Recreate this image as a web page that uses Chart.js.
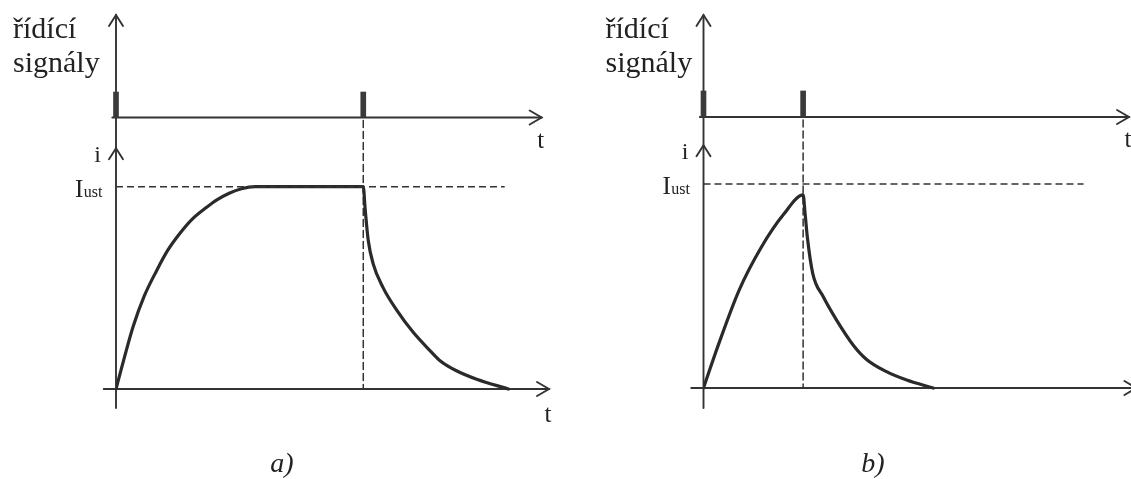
<!DOCTYPE html>
<html lang="cs">
<head>
<meta charset="utf-8">
<title>Řídící signály a proud</title>
<script src="https://cdn.jsdelivr.net/npm/chart.js@4.4.1/dist/chart.umd.min.js"></script>
<style>
  html, body { margin: 0; padding: 0; background: #fff; }
  .wrap { position: relative; width: 1131px; height: 479px; overflow: hidden; }
  canvas { position: absolute; top: 0; }
  #chartA { left: 0; }
  #chartB { left: 580px; }
</style>
</head>
<body>
<div class="wrap">
  <canvas id="chartA" width="580" height="479"></canvas>
  <canvas id="chartB" width="551" height="479"></canvas>
</div>
<script>
// --- data: time in ms, current relative to I_ust ---
const timeA    = [0, 0.35, 0.7, 1.15, 1.65, 2.1, 2.6, 3.1, 3.7, 4.1, 4.6, 5.1, 5.65,
                  10.05, 10.13, 10.25, 10.45, 10.86, 11.41, 12.08, 12.76, 13.17, 13.84, 14.66, 15.95];
const currentA = [0, 0.16, 0.31, 0.46, 0.585, 0.685, 0.77, 0.84, 0.9, 0.935, 0.968, 0.99, 1,
                  1, 0.885, 0.737, 0.62, 0.5, 0.39, 0.28, 0.19, 0.14, 0.09, 0.048, 0];
const pulsesA  = [0, 10.05];

const timeB    = [0, 0.6, 1.45, 2.35, 3.25, 4.05, 4.13, 4.22, 4.44, 4.87, 5.41, 6.09, 6.63, 7.44, 8.26, 9.34];
const currentB = [0, 0.21, 0.48, 0.69, 0.85, 0.946, 0.856, 0.741, 0.562, 0.447, 0.333, 0.21, 0.14, 0.08, 0.039, 0];
const pulsesB  = [0, 4.05];

const I_UST = 1;
const istEnd = { a: 15.8, b: 15.45 };
const axisLabels = { signal: ['řídící', 'signály'], current: 'i', ist: 'I', istSub: 'ust', time: 't' };
const panelLabels = ['a)', 'b)'];

const INK = '#333';
const SERIF = '"Liberation Serif", "DejaVu Serif", serif';

function toPoints(xs, ys) {
  return xs.map((x, k) => ({ x: x, y: ys[k] }));
}

// open "V" arrow head, tip at (x, y)
function arrowHead(ctx, x, y, dir) {
  ctx.beginPath();
  if (dir === 'up') {
    ctx.moveTo(x - 7, y + 11); ctx.lineTo(x, y); ctx.lineTo(x + 7, y + 11);
  } else {
    ctx.moveTo(x - 12, y - 7); ctx.lineTo(x, y); ctx.lineTo(x - 12, y + 7);
  }
  ctx.stroke();
}

// axes, guides and text are drawn from the scales
const axesPlugin = {
  id: 'axesPlugin',
  beforeDatasetsDraw(chart, args, opts) {
    const ctx = chart.ctx;
    const x = chart.scales.x, i = chart.scales.i, s = chart.scales.s;
    const x0 = x.getPixelForValue(0);
    const sigY = s.getPixelForValue(0);
    const iY = i.getPixelForValue(0);
    const sigTip = x.getPixelForValue(17.3);
    const iTip = x.getPixelForValue(17.6);
    ctx.save();
    ctx.strokeStyle = INK;
    ctx.lineWidth = 1.9;
    ctx.lineCap = 'round';

    // shared vertical axis
    ctx.beginPath();
    ctx.moveTo(x0, s.getPixelForValue(s.max));
    ctx.lineTo(x0, i.getPixelForValue(i.min));
    ctx.stroke();
    arrowHead(ctx, x0, s.getPixelForValue(s.max), 'up');
    arrowHead(ctx, x0, i.getPixelForValue(1.19), 'up');

    // control signal time axis
    ctx.beginPath();
    ctx.moveTo(x.getPixelForValue(-0.15), sigY);
    ctx.lineTo(sigTip, sigY);
    ctx.stroke();
    arrowHead(ctx, sigTip, sigY, 'right');

    // current time axis
    ctx.beginPath();
    ctx.moveTo(x.getPixelForValue(-0.5), iY);
    ctx.lineTo(iTip, iY);
    ctx.stroke();
    arrowHead(ctx, iTip, iY, 'right');

    // dashed guide from the switch-off pulse down to the time axis
    ctx.lineWidth = 1.5;
    ctx.setLineDash([7, 4]);
    const px = x.getPixelForValue(opts.pulseOff);
    ctx.beginPath();
    ctx.moveTo(px, sigY + 3);
    ctx.lineTo(px, iY);
    ctx.stroke();
    ctx.setLineDash([]);

    // texts
    ctx.fillStyle = '#222';
    ctx.textBaseline = 'alphabetic';
    ctx.textAlign = 'left';
    ctx.font = '30px ' + SERIF;
    ctx.fillText(axisLabels.signal[0], x0 + opts.textDx, 38);
    ctx.fillText(axisLabels.signal[1], x0 + opts.textDx, 72);

    ctx.textAlign = 'right';
    ctx.font = '24px ' + SERIF;
    ctx.fillText(axisLabels.current, x0 - 15, i.getPixelForValue(1.19) + 14);

    ctx.textAlign = 'left';
    const istY = i.getPixelForValue(I_UST);
    ctx.font = '25px ' + SERIF;
    ctx.fillText(axisLabels.ist, x0 - 41, istY + 10);
    const w = ctx.measureText(axisLabels.ist).width;
    ctx.font = '16px ' + SERIF;
    ctx.fillText(axisLabels.istSub, x0 - 41 + w + 0.5, istY + 10);

    ctx.textAlign = 'center';
    ctx.font = '25px ' + SERIF;
    ctx.fillText(axisLabels.time, sigTip - 1, sigY + 30);
    ctx.fillText(axisLabels.time, iTip - 1, iY + 33);

    ctx.font = 'italic 28px ' + SERIF;
    ctx.fillText(opts.panel, opts.panelX, 472);
    ctx.restore();
  }
};

function makeChart(id, cfg) {
  return new Chart(document.getElementById(id), {
    type: 'line',
    data: {
      datasets: [
        {
          type: 'bar',
          yAxisID: 's',
          data: cfg.pulses.map(p => ({ x: p, y: 1 })),
          backgroundColor: '#3a3a3a',
          barThickness: 5,
          grouped: false,
          clip: false
        },
        {
          yAxisID: 'i',
          data: [{ x: 0, y: I_UST }, { x: cfg.istEnd, y: I_UST }],
          borderColor: INK,
          borderWidth: 1.5,
          borderDash: [7, 4],
          pointRadius: 0
        },
        {
          yAxisID: 'i',
          data: toPoints(cfg.time, cfg.current),
          borderColor: '#2a2a2a',
          borderWidth: 3.2,
          pointRadius: 0,
          cubicInterpolationMode: 'monotone',
          borderJoinStyle: 'round',
          borderCapStyle: 'round'
        }
      ]
    },
    options: {
      responsive: false,
      animation: false,
      events: [],
      layout: { padding: cfg.padding },
      plugins: {
        legend: { display: false },
        tooltip: { enabled: false },
        axesPlugin: cfg.plugin
      },
      scales: {
        x: { type: 'linear', display: false, offset: false, min: 0, max: cfg.xMax },
        i: { type: 'linear', display: false, min: cfg.iRange[0], max: cfg.iRange[1] },
        s: { type: 'linear', display: false, min: cfg.sRange[0], max: cfg.sRange[1] }
      }
    },
    plugins: [axesPlugin]
  });
}

makeChart('chartA', {
  time: timeA, current: currentA, pulses: pulsesA, istEnd: istEnd.a,
  padding: { left: 116, right: 30, top: 15, bottom: 71 },
  xMax: 17.64,
  iRange: [-0.094, 1.849],
  sRange: [-11.39, 4.02],
  plugin: { pulseOff: pulsesA[1], textDx: -103, panel: panelLabels[0], panelX: 282 }
});

makeChart('chartB', {
  time: timeB, current: currentB, pulses: pulsesB, istEnd: istEnd.b,
  padding: { left: 123.5, right: 0, top: 15, bottom: 71 },
  xMax: 17.38,
  iRange: [-0.098, 1.828],
  sRange: [-11.19, 3.92],
  plugin: { pulseOff: pulsesB[1], textDx: -98, panel: panelLabels[1], panelX: 293 }
});
</script>
</body>
</html>
